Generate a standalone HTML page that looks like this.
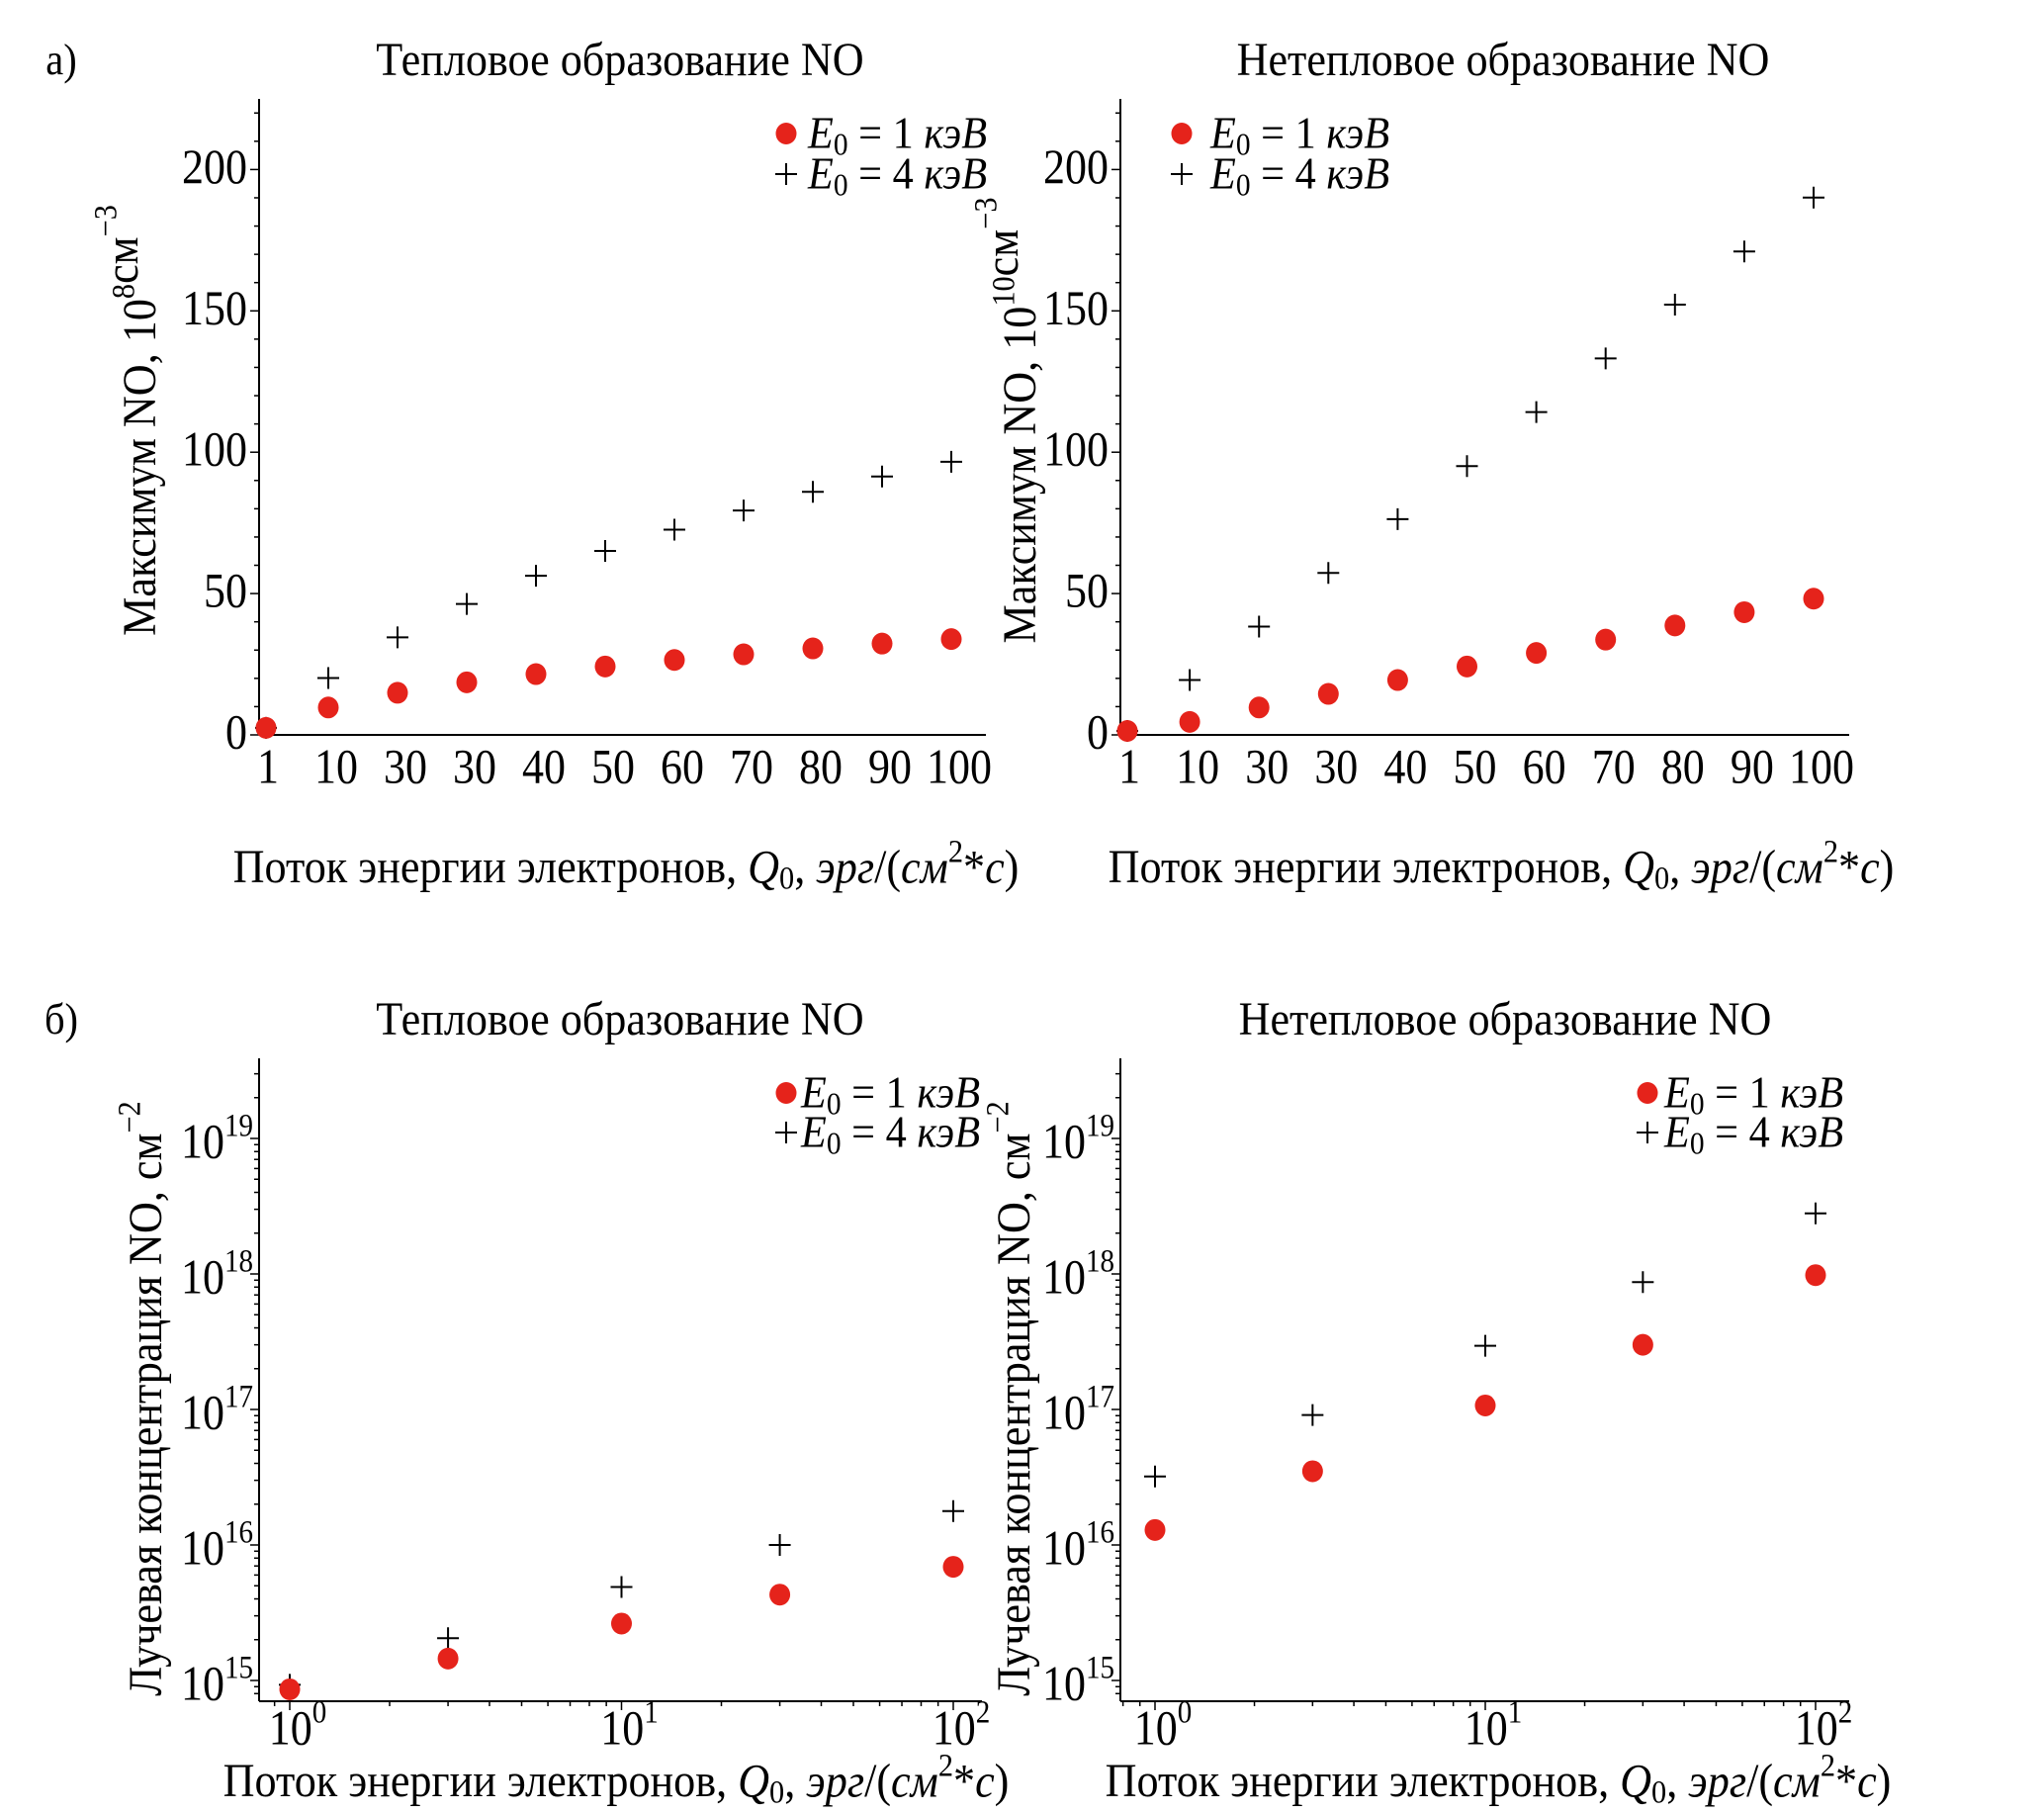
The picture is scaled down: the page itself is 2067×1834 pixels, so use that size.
<!DOCTYPE html>
<html><head><meta charset="utf-8"><style>
html,body{margin:0;padding:0;background:#fff;}
svg{display:block;font-family:"Liberation Serif","DejaVu Serif",serif;}
</style></head><body>
<svg id="fig" width="2067" height="1834" viewBox="0 0 2067 1834" xmlns="http://www.w3.org/2000/svg"></svg>
<script>
// ---- data ----
const qLin = [1,10,20,30,40,50,60,70,80,90,100];
const qLinLabels = ["1","10","30","30","40","50","60","70","80","90","100"];
const thermMax1 = [2.5,9.7,14.9,18.6,21.5,24.2,26.5,28.5,30.6,32.3,33.9];
const thermMax4 = [2.5,20.1,34.5,46.3,56.3,65.1,72.6,79.4,86.0,91.4,96.6];
const nonthermMax1 = [1.4,4.6,9.7,14.5,19.4,24.2,29.0,33.7,38.7,43.4,48.2];
const nonthermMax4 = [1.4,19.4,38.3,57.3,76.3,95.1,114.2,133.2,152.2,171.0,190.1];
const linYTicks = [0,50,100,150,200];
const qLog = [1,3,10,30,100];
const thermCol1 = [8.6e14,1.45e15,2.63e15,4.3e15,6.9e15];
const thermCol4 = [9.3e14,2.05e15,4.9e15,1.0e16,1.78e16];
const nonthermCol1 = [1.29e16,3.5e16,1.07e17,3.0e17,9.8e17];
const nonthermCol4 = [3.2e16,9.1e16,2.95e17,8.7e17,2.8e18];
const logYExps = [15,16,17,18,19];
const logXExps = [0,1,2];

const NS="http://www.w3.org/2000/svg";
const svg=document.getElementById('fig');
const RED="#e5231b";
function el(tag,attrs,parent){const e=document.createElementNS(NS,tag);for(const k in attrs)e.setAttribute(k,attrs[k]);(parent||svg).appendChild(e);return e;}
function txt(x,y,html,size,anchor,sx,parent,rot){
  const g=el('g',{transform:`translate(${x},${y})`+(rot?` rotate(${rot})`:'')+` scale(${sx||0.92},1)`},parent);
  const t=el('text',{x:0,y:0,'font-size':size,'text-anchor':anchor||'start','dominant-baseline':'middle'},g);
  t.innerHTML=html;return t;}
const sup=(s)=>`<tspan font-size="33" dy="-18">${s}</tspan><tspan dy="18"></tspan>`;

function panel(cfg){
  const g=el('g',{});
  
  
  const {x0,x1,y0,y1}=cfg;
  let xs,ys;
  if(cfg.log){
    xs=v=>cfg.xa+(Math.log10(v))*cfg.xd;
    ys=v=>cfg.ya-(Math.log10(v)-15)*cfg.yd;
  } else {
    xs=v=>cfg.xa+v*cfg.xk;
    ys=v=>cfg.ya-v*cfg.yk;
  }
  const ax=el('line',{x1:x0,y1:y0,x2:x0,y2:y1,stroke:'#000','stroke-width':2},g);
  
  const bx=el('line',{x1:x0,y1:y1,x2:x1,y2:y1,stroke:'#000','stroke-width':2},g);
  
  if(!cfg.log){
    for(let v=0;v<=220;v+=10){const y=ys(v);el('line',{x1:x0-(v%50==0?9:5),y1:y,x2:x0,y2:y,stroke:'#000','stroke-width':1.5},g);}
    linYTicks.forEach(v=>{const t=txt(x0-12,ys(v)+2,String(v),50,'end',0.88,g);});
    qLin.forEach((v,i)=>{const x=i==0?xs(v)+2:xs(v)+8;const t=txt(x,780,qLinLabels[i],50,'middle',0.88,g);});
  } else {
    for(let e=14;e<=19;e++)for(let m=1;m<10;m++){const v=m*Math.pow(10,e);const y=ys(v);if(y<y0||y>y1)continue;el('line',{x1:x0-(m==1?9:5),y1:y,x2:x0,y2:y,stroke:'#000','stroke-width':1.5},g);}
    for(let e=-1;e<=2;e++)for(let m=1;m<10;m++){const v=m*Math.pow(10,e);const x=xs(v);if(x<x0||x>x1)continue;el('line',{x1:x,y1:y1,x2:x,y2:y1+(m==1?9:5),stroke:'#000','stroke-width':1.5},g);}
    logYExps.forEach(e=>{const t=txt(x0-6,ys(Math.pow(10,e))+8,'10'+sup(e),50,'end',0.88,g);});
    logXExps.forEach(e=>{const x=xs(Math.pow(10,e));const t=txt(x+8,1752,'10'+sup(e),50,'middle',0.88,g);});
  }
  const xv=cfg.log?qLog:qLin;
  cfg.s4.forEach((v,i)=>{const cx=xs(xv[i]),cy=ys(v);
    const p=el('path',{d:`M${cx-11},${cy}H${cx+11}M${cx},${cy-11}V${cy+11}`,stroke:'#000','stroke-width':2,fill:'none'},g);
    });
  cfg.s1.forEach((v,i)=>{const c=el('ellipse',{cx:xs(xv[i]),cy:ys(v),rx:10.5,ry:11,fill:RED},g);
    });
  const t=txt(cfg.tx,cfg.ty,cfg.title,48,'middle',0.92,g);
  const yl=txt(cfg.ylx,cfg.yly,cfg.ylabel,48,'middle',0.92,g,-90);
  const xl=txt(cfg.xlx,cfg.xly,'Поток энергии электронов, <tspan font-style="italic">Q</tspan><tspan font-size="33" dy="10">0</tspan><tspan dy="-10">, </tspan><tspan font-style="italic">эрг</tspan>/(<tspan font-style="italic">см</tspan><tspan font-size="33" dy="-17">2</tspan><tspan dy="17">*</tspan><tspan font-style="italic">с</tspan>)',48,'middle',0.92,g);
  
  const lg=el('g',{},g);
  const L=cfg.leg;
  el('ellipse',{cx:L.dx,cy:L.y1,rx:10.5,ry:11,fill:RED},lg);
  el('path',{d:`M${L.dx-11},${L.y2}H${L.dx+11}M${L.dx},${L.y2-11}V${L.y2+11}`,stroke:'#000','stroke-width':2},lg);
  const lab=n=>`<tspan font-style="italic">E</tspan><tspan font-size="32" dy="10">0</tspan><tspan dy="-10"> = ${n} </tspan><tspan font-style="italic">кэВ</tspan>`;
  const e1=txt(L.tx,L.y1+4,lab(1),46,'start',0.92,lg);
  const e2=txt(L.tx,L.y2+4,lab(4),46,'start',0.92,lg);
}
const linK=142.9/50;
panel({name:'thermal-max-panel',x0:262,x1:997,y0:100,y1:743,xa:262,xk:7.0,ya:743,yk:linK,s1:thermMax1,s4:thermMax4,
  title:'Тепловое образование NO',tx:627,ty:65,ylabel:'Максимум NO, 10'+sup(8)+'см'+sup('−3'),ylx:146,yly:425,xlx:633,xly:881,
  leg:{dx:795,tx:817,y1:135,y2:176}});
panel({name:'nonthermal-max-panel',x0:1133,x1:1870,y0:100,y1:743,xa:1133,xk:7.01,ya:743,yk:linK,s1:nonthermMax1,s4:nonthermMax4,
  title:'Нетепловое образование NO',tx:1520,ty:65,ylabel:'Максимум NO, 10'+sup(10)+'см'+sup('−3'),ylx:1036,yly:425,xlx:1518,xly:881,
  leg:{dx:1195,tx:1224,y1:135,y2:176}});
panel({name:'thermal-column-panel',log:true,x0:262,x1:993,y0:1070,y1:1720,xa:293,xd:335.5,ya:1699,yd:137,s1:thermCol1,s4:thermCol4,
  title:'Тепловое образование NO',tx:627,ty:1035,ylabel:'Лучевая концентрация NO,  см'+sup('−2'),ylx:152,yly:1414,xlx:623,xly:1805,
  leg:{dx:795,tx:810,y1:1105,y2:1145}});
panel({name:'nonthermal-column-panel',log:true,x0:1133,x1:1870,y0:1070,y1:1720,xa:1168,xd:334,ya:1699,yd:137,s1:nonthermCol1,s4:nonthermCol4,
  title:'Нетепловое образование NO',tx:1522,ty:1035,ylabel:'Лучевая концентрация NO,  см'+sup('−2'),ylx:1030,yly:1414,xlx:1515,xly:1805,
  leg:{dx:1666,tx:1683,y1:1105,y2:1145}});
const a=txt(62,65,'а)',44,'middle',0.92);
const b=txt(62,1035,'б)',44,'middle',0.92);
</script>
</body></html>
